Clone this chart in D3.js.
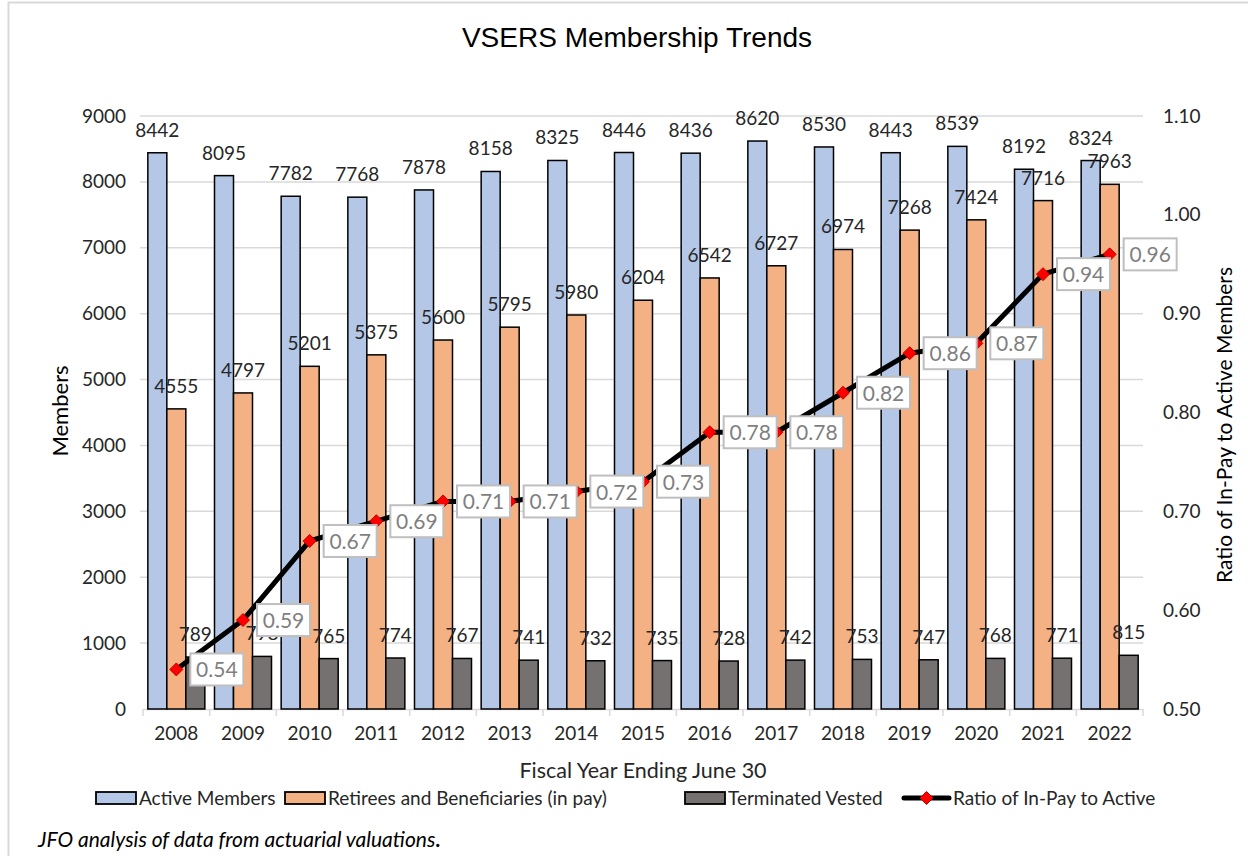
<!DOCTYPE html>
<html>
<head>
<meta charset="utf-8">
<script src="https://cdn.jsdelivr.net/npm/d3@7"></script>
<style>
  html, body { margin: 0; padding: 0; background: #fff; }
  svg { display: block; }
</style>
</head>
<body>
<svg id="chart" width="1248" height="856"></svg>
<script>
const years = ["2008","2009","2010","2011","2012","2013","2014","2015","2016","2017","2018","2019","2020","2021","2022"];
const activeMembers = [8442, 8095, 7782, 7768, 7878, 8158, 8325, 8446, 8436, 8620, 8530, 8443, 8539, 8192, 8324];
const retirees = [4555, 4797, 5201, 5375, 5600, 5795, 5980, 6204, 6542, 6727, 6974, 7268, 7424, 7716, 7963];
const terminatedVested = [789, 798, 765, 774, 767, 741, 732, 735, 728, 742, 753, 747, 768, 771, 815];
const ratio = [0.54, 0.59, 0.67, 0.69, 0.71, 0.71, 0.72, 0.73, 0.78, 0.78, 0.82, 0.86, 0.87, 0.94, 0.96];
const leftTicks = [0, 1000, 2000, 3000, 4000, 5000, 6000, 7000, 8000, 9000];
const rightTicks = [0.50, 0.60, 0.70, 0.80, 0.90, 1.00, 1.10];

const seriesNames = ["Active Members", "Retirees and Beneficiaries (in pay)", "Terminated Vested"];
const seriesColors = ["#b4c7e7", "#f4b183", "#767171"];
const seriesData = [activeMembers, retirees, terminatedVested];

const FONT = "Lato, 'Open Sans', sans-serif";
const svg = d3.select("#chart");

// chart border
svg.append("path").attr("d", "M8.5,860 L8.5,2.5 L1260,2.5")
  .attr("fill", "none").attr("stroke", "#d9d9d9").attr("stroke-width", 2);

const plot = { left: 143, right: 1143, top: 116, bottom: 709 };

const x = d3.scaleBand().domain(years).range([plot.left, plot.right]).paddingInner(0).paddingOuter(0);
const yL = d3.scaleLinear().domain([0, 9000]).range([plot.bottom, plot.top]);
const yR = d3.scaleLinear().domain([0.5, 1.1]).range([plot.bottom, plot.top]);

// gridlines
svg.append("g").selectAll("line").data(leftTicks.slice(1)).join("line")
  .attr("x1", plot.left - 3).attr("x2", plot.right)
  .attr("y1", d => yL(d)).attr("y2", d => yL(d))
  .attr("stroke", "#d9d9d9").attr("stroke-width", 1.5);

// x axis
const xAxis = d3.axisBottom(x).tickSize(0).tickPadding(18);
const gx = svg.append("g").attr("transform", `translate(0,${plot.bottom})`).call(xAxis);
gx.select(".domain").attr("stroke", "#d9d9d9").attr("stroke-width", 1.5);
gx.selectAll("text").attr("font-family", FONT).attr("font-size", 19).attr("fill", "#262626");
// band boundary ticks
svg.append("g").selectAll("line").data(d3.range(years.length + 1)).join("line")
  .attr("x1", i => plot.left + i * x.bandwidth()).attr("x2", i => plot.left + i * x.bandwidth())
  .attr("y1", plot.bottom).attr("y2", plot.bottom + 7)
  .attr("stroke", "#d9d9d9").attr("stroke-width", 1.5);

// left axis
const gl = svg.append("g").attr("transform", `translate(${plot.left},0)`)
  .call(d3.axisLeft(yL).tickValues(leftTicks).tickSize(0).tickPadding(17).tickFormat(d3.format("d")));
gl.select(".domain").remove();
gl.selectAll("text").attr("font-family", FONT).attr("font-size", 19).attr("fill", "#262626");

// right axis
const gr = svg.append("g").attr("transform", `translate(${plot.right},0)`)
  .call(d3.axisRight(yR).tickValues(rightTicks).tickSize(0).tickPadding(20).tickFormat(d3.format(".2f")));
gr.select(".domain").remove();
gr.selectAll("text").attr("font-family", FONT).attr("font-size", 19).attr("fill", "#262626");

// bars
const bw = 19;
const offsets = [-1.5 * bw, -0.5 * bw, 0.5 * bw];
const center = i => x(years[i]) + x.bandwidth() / 2;
seriesData.forEach((vals, s) => {
  svg.append("g").selectAll("rect").data(vals).join("rect")
    .attr("x", (d, i) => center(i) + offsets[s])
    .attr("width", bw)
    .attr("y", d => yL(d))
    .attr("height", d => yL(0) - yL(d))
    .attr("fill", seriesColors[s])
    .attr("stroke", "#000").attr("stroke-width", 1.5);
});
// bar labels
seriesData.forEach((vals, s) => {
  svg.append("g").selectAll("text").data(vals).join("text")
    .attr("x", (d, i) => center(i) + offsets[s] + bw / 2)
    .attr("y", d => yL(d) - 16)
    .attr("text-anchor", "middle")
    .attr("font-family", FONT).attr("font-size", 19).attr("fill", "#262626")
    .text(d => d);
});

// ratio line
const line = d3.line().x((d, i) => center(i)).y(d => yR(d));
svg.append("path").datum(ratio).attr("d", line)
  .attr("fill", "none").attr("stroke", "#000").attr("stroke-width", 5).attr("stroke-linejoin", "round");
svg.append("g").selectAll("path").data(ratio).join("path")
  .attr("transform", (d, i) => `translate(${center(i)},${yR(d)})`)
  .attr("d", "M0,-6.5 L6.5,0 L0,6.5 L-6.5,0 Z")
  .attr("fill", "#ff0000").attr("stroke", "#c00000").attr("stroke-width", 1);

// ratio labels
const lg = svg.append("g").selectAll("g").data(ratio).join("g")
  .attr("transform", (d, i) => `translate(${center(i) + 14},${yR(d)})`);
lg.append("rect").attr("x", 0).attr("y", -16).attr("width", 53).attr("height", 32)
  .attr("fill", "#fff").attr("stroke", "#bfbfbf").attr("stroke-width", 2);
lg.append("text").attr("x", 26.5).attr("y", 8).attr("text-anchor", "middle")
  .attr("font-family", FONT).attr("font-size", 21).attr("fill", "#7f7f7f")
  .text(d => d.toFixed(2));

// title
svg.append("text").attr("x", 637).attr("y", 47).attr("text-anchor", "middle")
  .attr("font-family", "'Liberation Sans', Arial, sans-serif").attr("font-size", 28).attr("fill", "#000")
  .text("VSERS Membership Trends");

// axis titles
svg.append("text").attr("transform", "translate(68,411) rotate(-90)").attr("text-anchor", "middle")
  .attr("font-family", FONT).attr("font-size", 22).attr("fill", "#000").text("Members");
svg.append("text").attr("transform", "translate(1232,425) rotate(-90)").attr("text-anchor", "middle")
  .attr("font-family", FONT).attr("font-size", 21).attr("fill", "#000").text("Ratio of In-Pay  to Active Members");
svg.append("text").attr("x", 643).attr("y", 778).attr("text-anchor", "middle")
  .attr("font-family", FONT).attr("font-size", 21.5).attr("fill", "#262626").text("Fiscal Year Ending June 30");

// legend
const legendItems = [
  { name: seriesNames[0], color: seriesColors[0], x: 96, type: "bar" },
  { name: seriesNames[1], color: seriesColors[1], x: 285, type: "bar" },
  { name: seriesNames[2], color: seriesColors[2], x: 685, type: "bar" },
  { name: "Ratio of In-Pay to Active", color: "#000", x: 904, type: "line" }
];
const leg = svg.append("g").selectAll("g").data(legendItems).join("g")
  .attr("transform", d => `translate(${d.x},798)`);
leg.filter(d => d.type === "bar").append("rect")
  .attr("x", 0).attr("y", -6).attr("width", 40).attr("height", 12)
  .attr("fill", d => d.color).attr("stroke", "#000").attr("stroke-width", 1.8);
const ll = leg.filter(d => d.type === "line");
ll.append("line").attr("x1", 0).attr("x2", 45).attr("y1", 0).attr("y2", 0)
  .attr("stroke", "#000").attr("stroke-width", 5).attr("stroke-linecap", "round");
ll.append("path").attr("transform", "translate(22.5,0)").attr("d", "M0,-6.5 L6.5,0 L0,6.5 L-6.5,0 Z")
  .attr("fill", "#ff0000").attr("stroke", "#c00000").attr("stroke-width", 1);
leg.append("text").attr("x", d => d.type === "line" ? 49 : 43).attr("y", 7)
  .attr("font-family", FONT).attr("font-size", 19).attr("fill", "#262626").text(d => d.name);

// footnote
const fn = svg.append("text").attr("x", 38).attr("y", 847)
  .attr("font-family", FONT).attr("font-size", 21).attr("font-style", "italic").attr("fill", "#000");
fn.append("tspan").text("JFO analysis of data from actuarial valuations");
fn.append("tspan").attr("font-style", "normal").attr("font-weight", "bold").text(".");
</script>
</body>
</html>
